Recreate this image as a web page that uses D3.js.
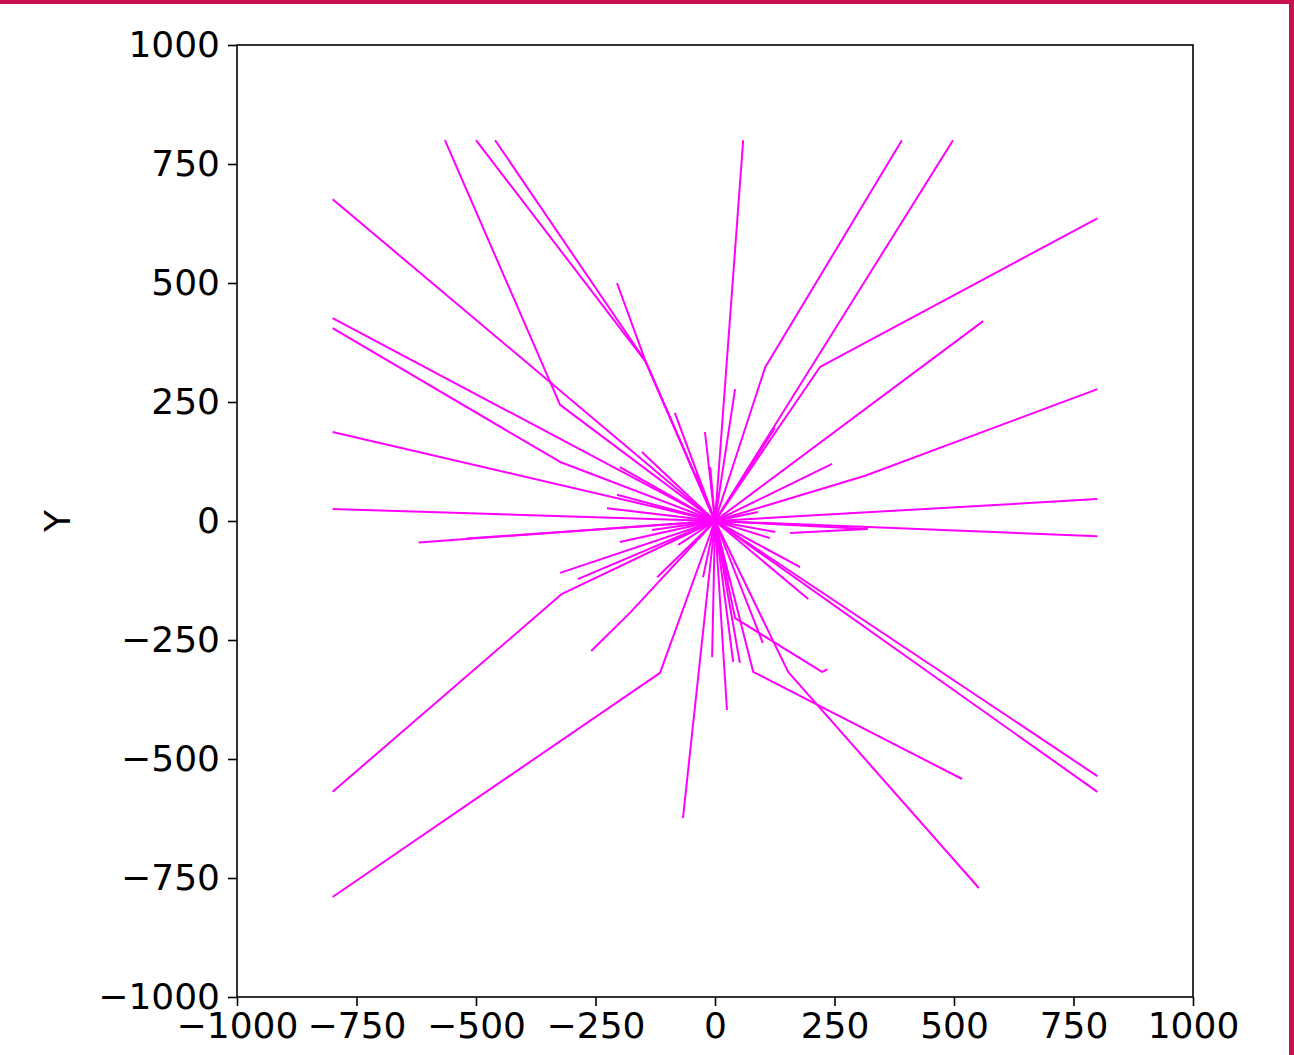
<!DOCTYPE html>
<html>
<head>
<meta charset="utf-8">
<script src="https://cdn.jsdelivr.net/npm/d3@7"></script>
<style>
html,body{margin:0;padding:0;background:#fff;}
svg{display:block;}
</style>
</head>
<body>
<svg id="chart" width="1294" height="1055"></svg>
<script>
// Tick values
const xTicks = [-1000, -750, -500, -250, 0, 250, 500, 750, 1000];
const yTicks = [-1000, -750, -500, -250, 0, 250, 500, 750, 1000];
const yLabel = "Y";

// Long polylines (start at origin, optional bend, end point)
const longLines = [
  [[0,0],[-324,244],[-565,800]],
  [[0,0],[-145,335],[-500,800]],
  [[0,0],[-145,335],[-460,800]],
  [[0,0],[-145,335],[-205,500]],
  [[0,0],[-800,676]],
  [[0,0],[-800,426]],
  [[0,0],[-324,124],[-800,405]],
  [[0,0],[-800,187]],
  [[0,0],[-800,25]],
  [[0,0],[59,800]],
  [[0,0],[105,323],[391,800]],
  [[0,0],[498,800]],
  [[0,0],[220,324],[800,636]],
  [[0,0],[561,420]],
  [[0,0],[314,95],[800,277]],
  [[0,0],[800,46]],
  [[0,0],[800,-32]],
  [[0,0],[-620,-45]],
  [[0,0],[-520,-37]],
  [[0,0],[-320,-153],[-800,-569]],
  [[0,0],[-115,-319],[-800,-790]],
  [[0,0],[-178,-193],[-259,-273]],
  [[0,0],[-67,-624]],
  [[0,0],[800,-536]],
  [[0,0],[800,-569]],
  [[0,0],[80,-317],[517,-542]],
  [[0,0],[153,-317],[552,-771]],
  [[0,0],[42,-204],[224,-317],[235,-312]],
  [[0,0],[318,-17],[157,-25]]
];

// Short straight lines from origin (end points)
const shortEnds = [
  [-84,227],[-21,187],[-153,145],[-199,113],[-205,55],[-226,27],[-10,113],[-38,100],
  [245,120],[42,277],[125,195],[90,19],
  [-324,-109],[-287,-122],[-199,-44],[-132,-19],[-121,-118],[-25,-118],[-6,-286],[-77,-50],
  [178,-97],[195,-164],[126,-23],[115,-36],[100,-256],[25,-397],[38,-296],[52,-298],[31,-128]
];

const svg = d3.select("#chart");
const W = 1294, H = 1055;
const L = 237, R = 1193, T = 45, B = 997;

const x = d3.scaleLinear().domain([-1000, 1000]).range([L, R]);
const y = d3.scaleLinear().domain([-1000, 1000]).range([B, T]);

// Outer crimson frame (top and right)
svg.append("rect").attr("x",0).attr("y",0).attr("width",W).attr("height",4).attr("fill","#c8104e");
svg.append("rect").attr("x",1289).attr("y",0).attr("width",5).attr("height",H).attr("fill","#c8104e");

const line = d3.line().x(d => x(d[0])).y(d => y(d[1]));
const plot = svg.append("g");
const allLines = longLines.concat(shortEnds.map(e => [[0,0], e]));
plot.selectAll("path.ray").data(allLines).enter().append("path")
  .attr("class","ray")
  .attr("d", line)
  .attr("fill","none")
  .attr("stroke","#ff00ff")
  .attr("stroke-width",2)
  .attr("stroke-linejoin","round");

// Axes
const fontFamily = "'DejaVu Sans', sans-serif";
const xAxis = d3.axisBottom(x).tickValues(xTicks).tickSize(9).tickPadding(6).tickFormat(d3.format("d"));
const yAxis = d3.axisLeft(y).tickValues(yTicks).tickSize(9).tickPadding(8).tickFormat(d3.format("d"));

const gx = svg.append("g").attr("transform", `translate(0,${B})`).call(xAxis);
const gy = svg.append("g").attr("transform", `translate(${L},0)`).call(yAxis);
[gx, gy].forEach(g => {
  g.select(".domain").remove();
  g.selectAll(".tick line").attr("stroke","#000").attr("stroke-width",1.6);
  g.selectAll(".tick text").attr("fill","#000").style("font-family", fontFamily).style("font-size","36px");
});

// Spines
svg.append("rect").attr("x",L).attr("y",T).attr("width",R-L).attr("height",B-T)
  .attr("fill","none").attr("stroke","#000").attr("stroke-width",1.6);

// Y label
svg.append("text")
  .attr("transform", `translate(70,${(T+B)/2}) rotate(-90)`)
  .attr("text-anchor","middle")
  .style("font-family", fontFamily).style("font-size","36px")
  .text(yLabel);
</script>
</body>
</html>
